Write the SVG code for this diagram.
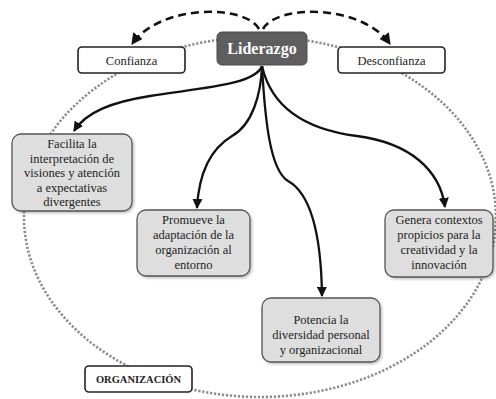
<svg xmlns="http://www.w3.org/2000/svg" width="496" height="399" viewBox="0 0 496 399">
<style>
.t{font-family:"Liberation Serif","Times New Roman",serif;font-size:12.5px;fill:#222;text-anchor:middle}
.gb{fill:#dedede;stroke:#555;stroke-width:1.3}
.wb{fill:#fff;stroke:#222;stroke-width:1.6}
.c{fill:none;stroke:#111;stroke-width:2.3}
.d{fill:none;stroke:#111;stroke-width:2.6;stroke-dasharray:8 5}
</style>
<defs>
<marker id="ah" viewBox="0 0 10 10" refX="9" refY="5" markerWidth="4.4" markerHeight="4.4" orient="auto" markerUnits="strokeWidth">
<path d="M0,0 L10,5 L0,10 z" fill="#111"/>
</marker>
<filter id="sh" x="-10%" y="-10%" width="130%" height="130%">
<feDropShadow dx="1.5" dy="1.5" stdDeviation="1" flood-color="#000" flood-opacity="0.25"/>
</filter>
</defs>
<rect width="496" height="399" fill="#fff"/>
<ellipse id="organizacion-boundary" cx="260" cy="217" rx="236" ry="180" fill="none" stroke="#8c8c8c" stroke-width="2.6" stroke-dasharray="2.2 1.8"/>
<g id="connectors">
<path class="d" d="M259,29 C245,4 160,4 132,44" marker-end="url(#ah)"/>
<path class="d" d="M263,29 C277,4 362,4 390,44" marker-end="url(#ah)"/>
<path class="c" d="M262,66 C255,85 200,88 150,96 C112,102 86,112 74,131" marker-end="url(#ah)"/>
<path class="c" d="M262,66 C261,95 252,125 232,136 C212,148 199,170 197,208" marker-end="url(#ah)"/>
<path class="c" d="M262,66 C265,120 270,170 288,181 C306,191 321,220 322,296" marker-end="url(#ah)"/>
<path class="c" d="M262,66 C272,110 310,130 357,136 C410,143 440,170 445,207" marker-end="url(#ah)"/>
</g>
<g id="liderazgo">
<rect x="217" y="32" width="90" height="33" rx="5" fill="#5e5e5e" stroke="#4a4a4a" stroke-width="1"/>
<text x="262" y="54" style="font-family:'Liberation Serif','Times New Roman',serif;font-size:16px;font-weight:bold;fill:#fff;text-anchor:middle">Liderazgo</text>
</g>
<g id="confianza">
<rect class="wb" x="78" y="47" width="107" height="26" rx="4"/>
<text class="t" x="131.5" y="65">Confianza</text>
</g>
<g id="desconfianza">
<rect class="wb" x="338" y="47" width="107" height="26" rx="4"/>
<text class="t" x="391.5" y="65">Desconfianza</text>
</g>
<g id="facilita">
<rect class="gb" x="12" y="134" width="120" height="77" rx="9" filter="url(#sh)"/>
<text class="t" x="72" y="148">Facilita la</text>
<text class="t" x="72" y="162.5">interpretación de</text>
<text class="t" x="72" y="177">visiones y atención</text>
<text class="t" x="72" y="191.5">a expectativas</text>
<text class="t" x="72" y="206">divergentes</text>
</g>
<g id="promueve">
<rect class="gb" x="137" y="210" width="113" height="66" rx="9" filter="url(#sh)"/>
<text class="t" x="193.5" y="224">Promueve la</text>
<text class="t" x="193.5" y="239">adaptación de la</text>
<text class="t" x="193.5" y="254">organización al</text>
<text class="t" x="193.5" y="269">entorno</text>
</g>
<g id="genera">
<rect class="gb" x="385" y="210" width="108" height="67" rx="9" filter="url(#sh)"/>
<text class="t" x="439" y="224">Genera contextos</text>
<text class="t" x="439" y="239">propicios para la</text>
<text class="t" x="439" y="254">creatividad y la</text>
<text class="t" x="439" y="269">innovación</text>
</g>
<g id="potencia">
<rect class="gb" x="262" y="298" width="118" height="64" rx="9" filter="url(#sh)"/>
<text class="t" x="321" y="324">Potencia la</text>
<text class="t" x="321" y="339">diversidad personal</text>
<text class="t" x="321" y="354">y organizacional</text>
</g>
<g id="organizacion">
<rect class="wb" x="85" y="366" width="107" height="26" rx="4"/>
<text x="138.5" y="383" style="font-family:'Liberation Serif','Times New Roman',serif;font-size:10.5px;font-weight:bold;fill:#222;text-anchor:middle">ORGANIZACIÓN</text>
</g>
</svg>
